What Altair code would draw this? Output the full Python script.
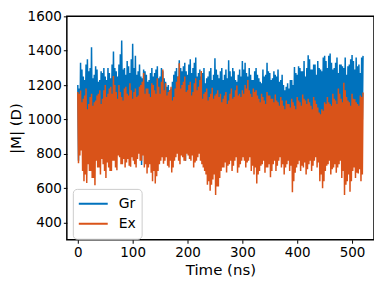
import altair as alt
import pandas as pd

STEP = 5.0  # ns; each 5 ns block holds: peak a, trough a, peak b, trough b

series_names = ["Gr", "Ex"]
series_colors = ["#0072BD", "#D95319"]
x_ticks = [0, 100, 200, 300, 400, 500]
y_ticks = [400, 600, 800, 1000, 1200, 1400, 1600]

# ---------------- Gr ----------------
# peaks a at t = 0, 5, ..., 520
gr_high_a = [1200, 1330, 1250, 1320, 1280, 1420, 1260, 1290, 1230, 1270,
             1250, 1300, 1240, 1395, 1280, 1320, 1460, 1300, 1340, 1270,
             1440, 1370, 1280, 1250, 1290, 1260, 1230, 1300, 1270, 1310,
             1250, 1280, 1220, 1200, 1180, 1260, 1300, 1345, 1280, 1330,
             1260, 1350, 1300, 1360, 1270, 1250, 1300, 1240, 1280, 1230,
             1356, 1260, 1280, 1230, 1290, 1345, 1250, 1280, 1220, 1290,
             1340, 1330, 1250, 1260, 1230, 1300, 1240, 1210, 1250, 1330,
             1270, 1240, 1260, 1290, 1230, 1200, 1190, 1180, 1230, 1305,
             1260, 1300, 1280, 1250, 1373, 1290, 1320, 1260, 1300, 1280,
             1370, 1300, 1384, 1290, 1330, 1270, 1320, 1300, 1260, 1320,
             1375, 1290, 1310, 1270, 1370]
# troughs a at t = 1.25, 6.25, ...
gr_low_a = [760, 1000, 960, 990, 1050, 980, 1020, 950, 1000, 970,
            1010, 940, 1030, 980, 1000, 950, 1040, 990, 960, 1020,
            980, 950, 1000, 735, 990, 960, 1010, 940, 990, 960,
            1000, 780, 950, 980, 930, 990, 960, 1000, 830, 760,
            990, 950, 1010, 960, 990, 940, 1000, 960, 980, 930,
            1000, 950, 990, 960, 1010, 950, 990, 940, 1000, 960,
            990, 790, 980, 950, 1000, 960, 940, 990, 950, 1000,
            960, 980, 940, 990, 950, 930, 960, 920, 980, 1000,
            960, 990, 950, 1010, 980, 950, 1000, 960, 990, 950,
            1010, 970, 1000, 960, 990, 950, 1000, 970, 940, 990,
            1010, 960, 1000, 980]
# peaks b at t = 2.5, 7.5, ...
gr_high_b = [1180, 1290, 1230, 1350, 1300, 1240, 1310, 1220, 1280, 1300,
             1230, 1270, 1320, 1300, 1250, 1380, 1290, 1260, 1310, 1350,
             1300, 1260, 1320, 1240, 1280, 1220, 1270, 1250, 1290, 1240,
             1300, 1240, 1190, 1170, 1220, 1280, 1250, 1300, 1310, 1280,
             1320, 1270, 1330, 1250, 1290, 1270, 1210, 1250, 1300, 1260,
             1290, 1240, 1300, 1260, 1240, 1280, 1300, 1230, 1260, 1250,
             1290, 1270, 1300, 1230, 1280, 1260, 1220, 1290, 1260, 1280,
             1230, 1280, 1250, 1220, 1260, 1170, 1210, 1230, 1200, 1270,
             1310, 1280, 1340, 1300, 1350, 1290, 1320, 1340, 1290, 1360,
             1340, 1370, 1330, 1300, 1360, 1320, 1310, 1360, 1310, 1350,
             1340, 1360, 1320, 1360]
# troughs b at t = 3.75, 8.75, ...
gr_low_b = [900, 980, 1010, 970, 1000, 960, 1030, 990, 950, 1010,
            980, 1000, 960, 1010, 970, 1020, 980, 950, 1000, 970,
            1010, 960, 990, 950, 1000, 970, 940, 990, 960, 1010,
            970, 940, 990, 960, 1000, 950, 980, 960, 900, 980,
            1000, 960, 990, 1020, 950, 1000, 970, 990, 940, 1000,
            960, 990, 950, 1000, 970, 1010, 960, 980, 950, 990,
            970, 1000, 960, 990, 940, 1000, 970, 950, 1000, 960,
            990, 950, 1000, 960, 940, 980, 950, 970, 990, 1010,
            970, 1000, 960, 1020, 990, 960, 1010, 980, 1000, 970,
            1020, 990, 1010, 970, 1000, 980, 1010, 960, 990, 1000,
            980, 1010, 970, 1000]

# ---------------- Ex ----------------
ex_high_a = [1160, 1168, 1120, 1180, 1090, 1150, 1100, 1140, 1170, 1120,
             1200, 1150, 1190, 1253, 1160, 1200, 1130, 1180, 1150, 1210,
             1120, 1180, 1140, 1200, 1270, 1180, 1150, 1210, 1170, 1240,
             1150, 1290, 1210, 1160, 1190, 1130, 1220, 1327, 1200, 1250,
             1170, 1220, 1160, 1240, 1190, 1282, 1150, 1180, 1130, 1185,
             1140, 1170, 1150, 1120, 1160, 1110, 1180, 1130, 1197, 1150,
             1170, 1200, 1230, 1150, 1180, 1170, 1120, 1150, 1110, 1160,
             1140, 1120, 1145, 1100, 1130, 1080, 1110, 1090, 1120, 1080,
             1130, 1100, 1145, 1110, 1120, 1080, 1130, 1090, 1040, 1060,
             1100, 1130, 1090, 1150, 1110, 1180, 1120, 1213, 1130, 1100,
             1150, 1117, 1090, 1140, 1157]
ex_low_a = [745, 820, 640, 630, 700, 660, 617, 720, 680, 740,
            660, 720, 700, 760, 705, 780, 740, 720, 770, 725,
            760, 720, 800, 760, 720, 685, 740, 640, 628, 700,
            760, 742, 780, 720, 691, 760, 800, 740, 780, 760,
            790, 760, 720, 760, 800, 740, 700, 620, 585, 650,
            560, 610, 700, 720, 691, 740, 700, 760, 690, 740,
            780, 720, 760, 700, 680, 628, 700, 740, 690, 720,
            663, 740, 700, 760, 720, 680, 740, 700, 577, 690,
            740, 700, 720, 680, 740, 700, 760, 720, 640, 600,
            700, 740, 680, 720, 690, 740, 660, 560, 640, 580,
            700, 660, 685, 640]
ex_high_b = [1150, 1100, 1140, 1060, 1130, 1080, 1110, 1150, 1090, 1170,
             1130, 1180, 1150, 1200, 1120, 1160, 1110, 1190, 1140, 1170,
             1160, 1130, 1190, 1220, 1150, 1180, 1130, 1200, 1150, 1190,
             1220, 1170, 1140, 1170, 1110, 1180, 1250, 1180, 1220, 1160,
             1200, 1140, 1210, 1170, 1230, 1120, 1160, 1110, 1150, 1120,
             1150, 1130, 1100, 1140, 1090, 1150, 1120, 1170, 1140, 1130,
             1150, 1180, 1170, 1130, 1160, 1140, 1100, 1130, 1090, 1140,
             1120, 1100, 1110, 1080, 1110, 1060, 1090, 1070, 1100, 1060,
             1110, 1080, 1120, 1090, 1100, 1060, 1110, 1070, 1030, 1050,
             1090, 1100, 1080, 1120, 1090, 1150, 1100, 1170, 1110, 1080,
             1120, 1100, 1080, 1130]
ex_low_b = [790, 700, 680, 740, 700, 660, 760, 720, 770, 700,
            750, 700, 760, 720, 790, 740, 770, 750, 730, 780,
            740, 770, 760, 790, 740, 720, 690, 700, 670, 740,
            780, 760, 730, 760, 720, 780, 760, 790, 760, 800,
            770, 790, 750, 780, 760, 720, 680, 640, 620, 680,
            610, 660, 720, 750, 730, 760, 730, 780, 720, 760,
            760, 750, 780, 730, 720, 680, 730, 760, 720, 740,
            700, 760, 730, 780, 740, 720, 760, 730, 640, 720,
            760, 730, 750, 710, 760, 730, 780, 750, 680, 640,
            730, 760, 710, 740, 720, 760, 700, 620, 680, 640,
            720, 690, 710, 680]


def build(name, high_a, low_a, high_b, low_b):
    rows = []
    for arr, off in ((high_a, 0.0), (low_a, 0.25), (high_b, 0.5), (low_b, 0.75)):
        rows += [{"t": (i + off) * STEP, "v": v, "s": name} for i, v in enumerate(arr)]
    return pd.DataFrame(rows).sort_values("t").reset_index(drop=True)


gr_df = build("Gr", gr_high_a, gr_low_a, gr_high_b, gr_low_b)
ex_df = build("Ex", ex_high_a, ex_low_a, ex_high_b, ex_low_b)

FONT = "DejaVu Sans"

color = alt.Color(
    "s:N",
    scale=alt.Scale(domain=series_names, range=series_colors),
    legend=alt.Legend(
        title=None,
        orient="none",
        legendX=6,
        legendY=173,
        symbolType="stroke",
        symbolSize=841,
        symbolStrokeWidth=2,
        clipHeight=20,
        rowPadding=0,
        labelFontSize=14,
        labelFont=FONT,
        labelColor="black",
        labelOffset=10,
        padding=5,
        cornerRadius=4,
        strokeColor="#cccccc",
        fillColor="white",
    ),
)
x = alt.X(
    "t:Q",
    scale=alt.Scale(domain=[-20, 540], nice=False, zero=False),
    axis=alt.Axis(values=x_ticks, title="Time (ns)", format="d", titlePadding=4),
)
y = alt.Y(
    "v:Q",
    scale=alt.Scale(domain=[300, 1600], nice=False, zero=False),
    axis=alt.Axis(values=y_ticks, title="|M| (D)", format="d", titlePadding=4),
)


def layer(df):
    return alt.Chart(df).mark_line(strokeWidth=1.5, clip=True).encode(
        x=x, y=y, color=color, order="t:Q"
    )


chart = (
    alt.layer(layer(gr_df), layer(ex_df))
    .properties(
        width=308,
        height=224,
        autosize="none",
        padding={"left": 59, "top": 8, "right": 0, "bottom": 45},
        background="white",
    )
    .configure_view(stroke="black", strokeWidth=1.5)
    .configure_axis(
        grid=False,
        domain=False,
        tickColor="black",
        tickSize=3.5,
        tickWidth=1,
        labelColor="black",
        labelFont=FONT,
        labelFontSize=13.5,
        labelPadding=2,
        titleColor="black",
        titleFont=FONT,
        titleFontSize=15,
        titleFontWeight="normal",
    )
)

chart.save("out.html", embed_options={"renderer": "svg", "actions": False})
